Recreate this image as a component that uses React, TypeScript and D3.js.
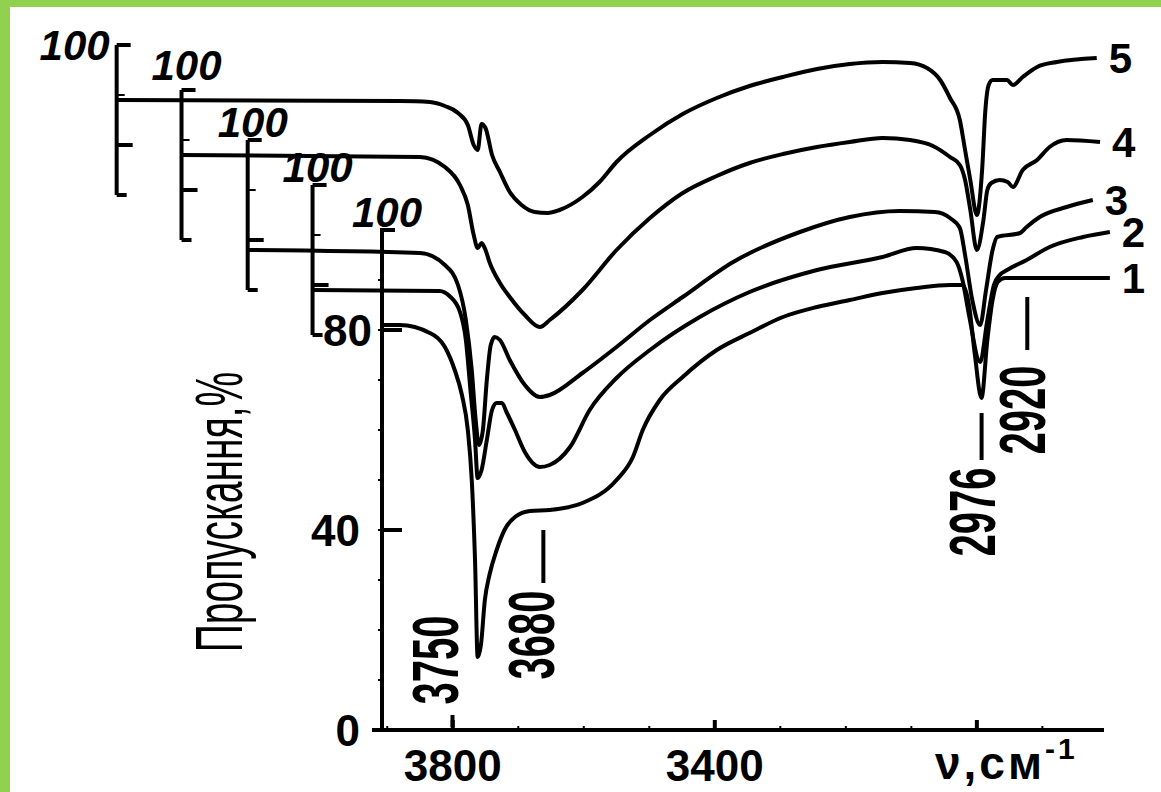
import React from "react";
import * as d3 from "d3";

// IR spectra, [wavenumber cm-1, transmittance %].
// Each spectrum has its own transmittance axis, shifted up by curveOffsets.
const spectrum1 = [
  [3908, 81], [3881, 81], [3835, 79.4], [3812, 76.6], [3797, 72], [3786, 67], [3777, 60], [3771, 50],
  [3766, 34], [3762, 14.6], [3757, 17], [3751, 26], [3744, 31], [3733, 36], [3721, 40], [3705, 42.6],
  [3682, 43.8], [3652, 44], [3602, 45.4], [3550, 50], [3525, 54.6], [3510, 60], [3484, 66], [3449, 70.6],
  [3397, 76], [3347, 79.4], [3296, 82.6], [3244, 84.6], [3194, 86], [3144, 87.4], [3092, 88.4], [3041, 89],
  [3022, 89], [3012, 85], [3003, 75], [2993, 66.4], [2984, 78], [2976, 86], [2968, 89.6], [2957, 90.4],
  [2889, 90.4], [2797, 90.4],
];
const spectrum2 = [
  [4014, 79], [3820, 78.8], [3805, 77.8], [3789, 74.6], [3780, 69], [3773, 59], [3766, 49], [3762, 41.4],
  [3756, 43], [3748, 49], [3740, 55], [3733, 56.4], [3725, 56.4], [3718, 54.6], [3705, 51], [3690, 46.6],
  [3667, 43.6], [3652, 44], [3621, 47.6], [3591, 55], [3550, 61.4], [3499, 67], [3423, 73.6], [3347, 78.6],
  [3244, 83], [3144, 85.6], [3092, 87.4], [3049, 86.6], [3031, 84.6], [3022, 81], [3012, 74], [2995, 64.6],
  [2984, 73], [2974, 80], [2965, 82], [2954, 83], [2924, 85], [2889, 87.6], [2838, 89.6], [2797, 90.6],
];
const spectrum3 = [
  [4113, 78], [3850, 77.4], [3812, 75], [3792, 71], [3780, 64], [3771, 54], [3765, 44], [3760, 39],
  [3754, 42], [3748, 52], [3742, 59], [3736, 60.6], [3728, 60], [3713, 56], [3690, 51], [3667, 48.6],
  [3652, 49], [3602, 53.4], [3550, 58.6], [3499, 64], [3449, 68.6], [3372, 75.6], [3270, 81.6], [3194, 84.6],
  [3118, 85.8], [3064, 85.6], [3041, 84.4], [3026, 82.4], [3018, 77], [3007, 68], [2995, 63], [2986, 70],
  [2976, 78], [2969, 80.6], [2934, 81.4], [2924, 82.6], [2904, 84.6], [2863, 86.6], [2823, 88],
];
const spectrum4 = [
  [4214, 87], [3850, 86.6], [3812, 84.6], [3789, 81], [3777, 77], [3768, 71], [3762, 68.4], [3756, 69.4],
  [3750, 68], [3744, 65.6], [3728, 61.4], [3713, 58.6], [3690, 55], [3667, 52.6], [3652, 54], [3602, 60],
  [3550, 68], [3499, 74.4], [3449, 79.4], [3397, 82.8], [3347, 85.4], [3296, 87.2], [3244, 88.6], [3194, 89.6],
  [3144, 90.4], [3102, 90], [3067, 88.8], [3041, 86.6], [3026, 85], [3018, 82], [3010, 76], [3000, 68],
  [2990, 74], [2984, 80], [2978, 81.4], [2965, 82], [2953, 81.6], [2945, 80.6], [2930, 84], [2908, 86],
  [2889, 88.6], [2863, 90], [2812, 89.6],
];
const spectrum5 = [
  [4313, 89], [3881, 88.8], [3835, 88.6], [3812, 87.8], [3792, 86.4], [3777, 84], [3768, 80], [3762, 79],
  [3756, 84.2], [3750, 83.4], [3740, 78], [3728, 74.6], [3713, 70.6], [3695, 68], [3675, 66.6], [3655, 66.4],
  [3637, 67], [3602, 69.6], [3576, 72.6], [3550, 76.6], [3499, 82], [3449, 86.2], [3397, 89.4], [3347, 91.8],
  [3296, 93.6], [3244, 95.2], [3194, 96.2], [3144, 96.6], [3102, 96.4], [3076, 95.4], [3056, 93], [3041, 89.4],
  [3026, 85], [3018, 79], [3010, 73], [3000, 66], [2992, 75], [2987, 87], [2982, 92], [2976, 93],
  [2954, 93], [2945, 92], [2930, 93.6], [2908, 95.6], [2878, 96.6], [2817, 97.4],
];

const spectra = [spectrum1, spectrum2, spectrum3, spectrum4, spectrum5];
const curveNames = ["1", "2", "3", "4", "5"];
const curveOffsets = [0, 9, 18, 28, 37];

const xTickLabels = [3800, 3400];
const xMinorTicks = [3900, 3800, 3700, 3600, 3500, 3400, 3300, 3200, 3100, 3000, 2900];
const yTickLabels = [0, 40, 80];
const peakLabels = ["3750", "3680", "2976", "2920"];
const peakWavenumbers = [3750, 3680, 2976, 2920];

const font = "'Liberation Sans', Arial, sans-serif";

// where each peak annotation sits: dx from the peak, label centre and marker line in %
const peakLayout = [
  { dx: -50, labelT: 14, lineDx: -33, line: [3, 0.6] },
  { dx: 0, labelT: 19, lineDx: 12, line: [40, 29.4] },
  { dx: -20, labelT: 43.6, lineDx: -11, line: [63.4, 54] },
  { dx: -6, labelT: 64, lineDx: -2, line: [86.6, 76] },
];
// baseline shift of each "100" label from its axis top
const hundredDy = [-3, -3, -3, -10, 15];

export default function App() {
  const x = d3.scaleLinear().domain([3908, 2809]).range([382, 1102]);
  const y = d3.scaleLinear().domain([0, 100]).range([730, 230]);
  const x0 = x(3908);

  const lineFor = (off: number) =>
    d3
      .line<number[]>()
      .x((d) => x(d[0]))
      .y((d) => y(d[1] + off))
      .curve(d3.curveMonotoneX);

  const minorY = d3.range(10, 100, 10);

  return (
    <svg width={1161} height={792} style={{ position: "absolute", left: 0, top: 0 }}>
      <rect x={0} y={0} width={1161} height={792} fill="#92d050" />
      <rect x={10} y={7} width={1151} height={785} fill="#ffffff" />

      {/* main transmittance axis (spectrum 1) */}
      <g stroke="#000" strokeWidth={4} fill="none" strokeLinecap="square">
        <line x1={x0} y1={y(0)} x2={x0} y2={y(100)} />
        <line x1={x0} y1={y(100)} x2={x0 + 11} y2={y(100)} />
        <line x1={x0 - 8} y1={y(0)} x2={x0} y2={y(0)} />
        {yTickLabels.filter((t) => t > 0).map((t) => (
          <line key={t} x1={x0} y1={y(t)} x2={x0 + 18} y2={y(t)} />
        ))}
        <line x1={375} y1={y(0)} x2={x(2809)} y2={y(0)} />
      </g>
      <g stroke="#000" strokeWidth={2}>
        {minorY.map((t) => (
          <line key={t} x1={x0 - 4} y1={y(t)} x2={x0} y2={y(t)} />
        ))}
        {xMinorTicks.map((w) => (
          <line key={w} x1={x(w)} y1={y(0)} x2={x(w)} y2={y(0) - (w % 400 === 200 ? 10 : 4)} strokeWidth={w % 400 === 200 ? 4 : 2} />
        ))}
      </g>

      {/* shifted axes for spectra 2-5 */}
      {spectra.slice(1).map((s, i) => {
        const off = curveOffsets[i + 1];
        const ax = x(s[0][0]);
        return (
          <g key={i} stroke="#000" strokeWidth={4} fill="none">
            <line x1={ax} y1={y(100 + off)} x2={ax} y2={y(70 + off)} />
            <line x1={ax} y1={y(100 + off)} x2={ax + 14} y2={y(100 + off)} />
            <line x1={ax} y1={y(80 + off)} x2={ax + 16} y2={y(80 + off)} />
            <line x1={ax} y1={y(90 + off)} x2={ax + 8} y2={y(90 + off)} strokeWidth={2} />
            <line x1={ax} y1={y(70 + off)} x2={ax + 10} y2={y(70 + off)} />
          </g>
        );
      })}

      {/* "100" labels */}
      {spectra.map((s, i) => {
        const off = curveOffsets[i];
        const ax = x(s[0][0]);
        const last = i === spectra.length - 1;
        return (
          <text
            key={i}
            x={last ? ax - 7 : ax - 30}
            y={y(100 + off) + hundredDy[i]}
            textAnchor={last ? "end" : "start"}
            fontFamily={font}
            fontWeight="bold"
            fontStyle="italic"
            fontSize={42}
          >
            100
          </text>
        );
      })}

      {/* main y tick labels */}
      {yTickLabels.map((t) => (
        <text key={t} x={t === 80 ? x0 - 10 : x0 - 22} y={y(t) + 16} textAnchor="end" fontFamily={font} fontWeight="bold" fontSize={44}>
          {t}
        </text>
      ))}

      {/* x tick labels */}
      {xTickLabels.map((w) => (
        <text key={w} x={x(w)} y={y(0) + 51} textAnchor="middle" fontFamily={font} fontWeight="bold" fontSize={44}>
          {w}
        </text>
      ))}
      <text x={935} y={779} fontFamily={font} fontWeight="bold" fontSize={46} letterSpacing={3}>
        ν,см<tspan fontSize={30} dy={-20}>-1</tspan>
      </text>

      {/* spectra */}
      {spectra.map((s, i) => (
        <path
          key={i}
          d={lineFor(curveOffsets[i])(s) || ""}
          fill="none"
          stroke="#000"
          strokeWidth={4}
          strokeLinejoin="round"
        />
      ))}

      {/* curve numbers */}
      {spectra.map((s, i) => {
        const end = s[s.length - 1];
        return (
          <text key={i} x={x(end[0]) + 12} y={y(end[1] + curveOffsets[i]) + 15} fontFamily={font} fontWeight="bold" fontSize={42}>
            {curveNames[i]}
          </text>
        );
      })}

      {/* peak annotations */}
      {peakLabels.map((lab, i) => {
        const p = peakLayout[i];
        const px = x(peakWavenumbers[i]);
        return (
          <g key={lab}>
            <line x1={px + p.lineDx} x2={px + p.lineDx} y1={y(p.line[0])} y2={y(p.line[1])} stroke="#000" strokeWidth={4} />
            <text
              transform={`translate(${px + p.dx},${y(p.labelT)}) scale(1.6,1) rotate(-90)`}
              textAnchor="middle"
              dominantBaseline="central"
              fontFamily={font}
              fontWeight="bold"
              fontSize={40}
            >
              {lab}
            </text>
          </g>
        );
      })}

      {/* y title */}
      <text
        transform="translate(219,512) scale(1.7,1) rotate(-90)"
        textAnchor="middle"
        dominantBaseline="central"
        fontFamily={font}
        fontSize={39}
      >
        Пропускання,%
      </text>
    </svg>
  );
}
